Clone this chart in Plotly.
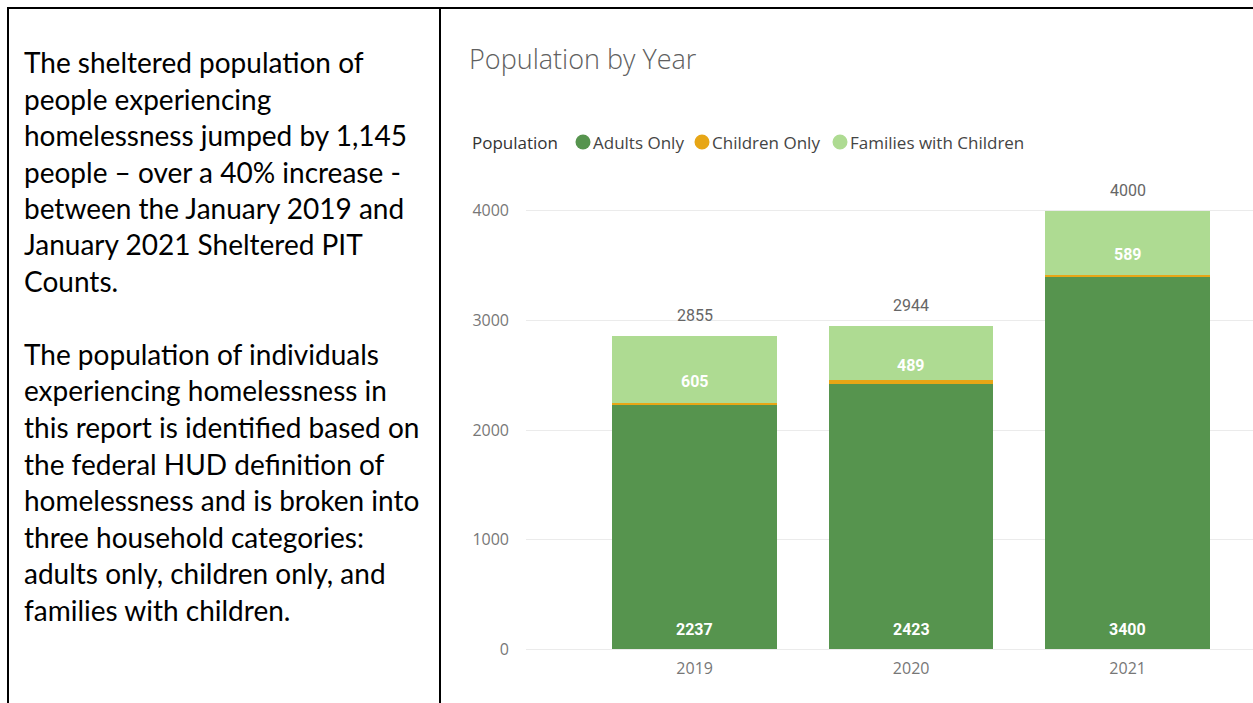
import plotly.graph_objects as go

W, H = 1253, 703

# ---------------- data ----------------
years = ["2019", "2020", "2021"]
adults_only = [2237, 2423, 3400]
children_only = [13, 32, 11]
families_with_children = [605, 489, 589]
y_ticks = [0, 1000, 2000, 3000, 4000]

series_names = ["Adults Only", "Children Only", "Families with Children"]
series_colors = ["#56944E", "#E7A616", "#AEDB92"]

chart_title = "Population by Year"
legend_title = "Population"

paragraph_1 = [
    "The sheltered population of",
    "people experiencing",
    "homelessness jumped by 1,145",
    "people \u2013 over a 40% increase -",
    "between the January 2019 and",
    "January 2021 Sheltered PIT",
    "Counts.",
]
paragraph_2 = [
    "The population of individuals",
    "experiencing homelessness in",
    "this report is identified based on",
    "the federal HUD definition of",
    "homelessness and is broken into",
    "three household categories:",
    "adults only, children only, and",
    "families with children.",
]


def px(x):
    return x / W


def py(y):
    return 1 - y / H


series_values = [adults_only, children_only, families_with_children]
totals = [a + c + f for a, c, f in zip(adults_only, children_only, families_with_children)]

fig = go.Figure()
for name, vals, col in zip(series_names, series_values, series_colors):
    fig.add_trace(go.Bar(
        x=years, y=vals, name=name,
        marker=dict(color=col, line=dict(width=0)),
        showlegend=False,
    ))

annotations = []
shapes = []

# totals above bars
for i, t in enumerate(totals):
    annotations.append(dict(
        x=i, y=t, xref="x", yref="y", text=str(t), showarrow=False,
        yanchor="bottom", yshift=9,
        font=dict(family="Roboto", size=16, color="#666666"),
    ))
# adults labels at bar base
for i, v in enumerate(adults_only):
    annotations.append(dict(
        x=i, y=0, xref="x", yref="y", text=f"<b>{v}</b>", showarrow=False,
        yanchor="bottom", yshift=8,
        font=dict(family="Roboto", size=16, color="#FFFFFF"),
    ))
# families labels
for i, (a, c, f) in enumerate(zip(adults_only, children_only, families_with_children)):
    annotations.append(dict(
        x=i, y=a + c + f / 2, xref="x", yref="y", text=f"<b>{f}</b>", showarrow=False,
        yanchor="middle", yshift=-12,
        font=dict(family="Roboto", size=16, color="#FFFFFF"),
    ))

# title
annotations.append(dict(
    x=px(467), y=py(59), xref="paper", yref="paper", text=chart_title,
    showarrow=False, xanchor="left", yanchor="middle",
    font=dict(family="Segoe UI Light, Open Sans", size=27, color="#606060", weight=300),
))

# legend (manual, compact like the reference)
legend_y = 142
legend_font = dict(family="Segoe UI, Open Sans", size=17, color="#444444")
annotations.append(dict(
    x=px(470), y=py(legend_y), xref="paper", yref="paper", text=legend_title,
    showarrow=False, xanchor="left", yanchor="middle",
    font=dict(family="Segoe UI, Open Sans", size=17, color="#333333"),
))
legend_circle_x = [583, 702, 840]
for cx, name, col in zip(legend_circle_x, series_names, series_colors):
    r = 7.5
    shapes.append(dict(
        type="circle", xref="paper", yref="paper",
        x0=px(cx - r), x1=px(cx + r), y0=py(legend_y + r), y1=py(legend_y - r),
        fillcolor=col, line=dict(width=0),
    ))
    annotations.append(dict(
        x=px(cx + r), y=py(legend_y), xref="paper", yref="paper", text=name,
        showarrow=False, xanchor="left", yanchor="middle",
        font=legend_font,
    ))

# left text column
text_font = dict(family="Lato", size=28, color="#000000")
pitch = 36.5
first_center = 62
lines = paragraph_1 + [""] + paragraph_2
for i, line in enumerate(lines):
    if not line:
        continue
    annotations.append(dict(
        x=px(22), y=py(first_center + i * pitch), xref="paper", yref="paper",
        text=line, showarrow=False, xanchor="left", yanchor="middle",
        font=text_font,
    ))

# table borders
border = dict(color="#000000", width=2)
shapes.append(dict(type="line", xref="paper", yref="paper",
                   x0=px(7), x1=px(1253), y0=py(8), y1=py(8), line=border))
shapes.append(dict(type="line", xref="paper", yref="paper",
                   x0=px(8), x1=px(8), y0=py(7), y1=py(703), line=border))
shapes.append(dict(type="line", xref="paper", yref="paper",
                   x0=px(440), x1=px(440), y0=py(7), y1=py(703), line=border))

fig.update_layout(
    width=W, height=H, autosize=False,
    margin=dict(l=0, r=0, t=0, b=0, pad=0, autoexpand=False),
    paper_bgcolor="white", plot_bgcolor="white",
    barmode="stack", bargap=0.24,
    showlegend=False,
    annotations=annotations, shapes=shapes,
    xaxis=dict(
        domain=[px(526), 1], type="category", range=[-0.779, 2.579],
        showgrid=False, zeroline=False, showline=False, ticks="",
        automargin=False,
        tickfont=dict(family="Segoe UI, Open Sans", size=16, color="#777777"),
        ticklabelstandoff=8,
    ),
    yaxis=dict(
        domain=[py(649.3), py(177.8)], range=[0, 4300],
        tickvals=y_ticks, ticktext=[str(v) for v in y_ticks],
        showgrid=True, gridcolor="#EBEBEB", gridwidth=1,
        zeroline=True, zerolinecolor="#EBEBEB", zerolinewidth=1,
        showline=False, ticks="", automargin=False,
        tickfont=dict(family="Segoe UI, Open Sans", size=16, color="#777777"),
        ticklabelstandoff=16,
    ),
)

fig.write_html("out.html", config={"displayModeBar": False},
               post_script="document.body.style.margin='0';")
